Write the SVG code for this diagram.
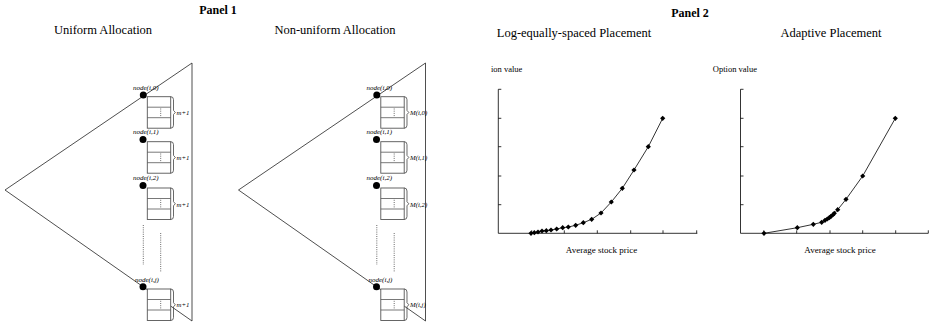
<svg xmlns="http://www.w3.org/2000/svg" xmlns:xlink="http://www.w3.org/1999/xlink" width="930" height="327" viewBox="0 0 930 327">
<style>
  text { font-family: "Liberation Serif", "Times New Roman", serif; fill: #000; }
  .title { font-size: 12.5px; text-anchor: middle; }
  .panel { font-size: 12px; font-weight: bold; text-anchor: middle; }
  .nlab { font-size: 7px; font-style: italic; }
  .blab { font-size: 6.8px; font-style: italic; }
  .axlab { font-size: 8.5px; }
  .axlab2 { font-size: 9px; text-anchor: middle; }
  .tri { fill: none; stroke: #222; stroke-width: 0.8; }
  .box { fill: #fff; stroke: #555; stroke-width: 0.9; }
  .row { stroke: #555; stroke-width: 0.8; }
  .dots { stroke: #444; stroke-width: 0.8; stroke-dasharray: 1 1.2; fill: none; }
  .brace { fill: none; stroke: #444; stroke-width: 0.8; }
  .axis { fill: none; stroke: #000; stroke-width: 0.8; }
  .curve { fill: none; stroke: #000; stroke-width: 0.8; }
</style>
<defs>
  <g id="blk">
    <rect class="box" x="0" y="0" width="23.4" height="31.5"/>
    <line class="row" x1="0" y1="10.5" x2="23.4" y2="10.5"/>
    <line class="row" x1="0" y1="21" x2="23.4" y2="21"/>
    <line class="dots" x1="13.4" y1="11.8" x2="13.4" y2="20"/>
    <path class="brace" d="M23.4,0 Q26.2,0 26.2,3 V13.7 L28,15.75 L26.2,17.8 V28.5 Q26.2,31.5 23.4,31.5"/>
  </g>
  <circle id="dot" r="3.5" fill="#000"/>
  <path id="mk" d="M0,-2.6 L2.6,0 L0,2.6 L-2.6,0Z" fill="#000"/>
</defs>

<text class="panel" x="218" y="14">Panel 1</text>
<text class="panel" x="690" y="17">Panel 2</text>
<text class="title" x="103" y="34">Uniform Allocation</text>
<text class="title" x="335" y="34">Non-uniform Allocation</text>
<text class="title" x="574" y="37">Log-equally-spaced Placement</text>
<text class="title" x="831" y="37">Adaptive Placement</text>

<!-- Uniform allocation tree -->
<g id="uniform">
  <path class="tri" d="M192,63 L5,190 L192,321 Z"/>
  <g id="u-node0">
    <use xlink:href="#blk" x="147.3" y="96.7"/>
    <use xlink:href="#dot" x="143.3" y="95"/>
    <text class="nlab" x="133" y="89.5">node(i,0)</text>
    <text class="blab" x="176.5" y="115">m+1</text>
  </g>
  <g id="u-node1">
    <use xlink:href="#blk" x="147.3" y="141.7"/>
    <use xlink:href="#dot" x="143" y="139.5"/>
    <text class="nlab" x="133" y="134">node(i,1)</text>
    <text class="blab" x="176.5" y="160">m+1</text>
  </g>
  <g id="u-node2">
    <use xlink:href="#blk" x="147.3" y="188"/>
    <use xlink:href="#dot" x="143" y="185.5"/>
    <text class="nlab" x="133" y="180">node(i,2)</text>
    <text class="blab" x="176.5" y="206.5">m+1</text>
  </g>
  <g id="u-vdots">
    <line class="dots" x1="143.3" y1="225" x2="143.3" y2="265"/>
    <line class="dots" x1="160.7" y1="233" x2="160.7" y2="271.5"/>
  </g>
  <g id="u-nodej">
    <use xlink:href="#blk" x="147.3" y="289"/>
    <use xlink:href="#dot" x="143" y="286.7"/>
    <text class="nlab" x="135" y="281.5">node(i,j)</text>
    <text class="blab" x="176.5" y="307">m+1</text>
  </g>
</g>

<!-- Non-uniform allocation tree -->
<g id="nonuniform">
  <path class="tri" d="M425.5,63 L238.5,190 L425.5,321 Z"/>
  <g id="n-node0">
    <use xlink:href="#blk" x="380.8" y="96.7"/>
    <use xlink:href="#dot" x="376.8" y="95"/>
    <text class="nlab" x="366.5" y="89.5">node(i,0)</text>
    <text class="blab" x="410" y="115">M(i,0)</text>
  </g>
  <g id="n-node1">
    <use xlink:href="#blk" x="380.8" y="141.7"/>
    <use xlink:href="#dot" x="376.5" y="139.5"/>
    <text class="nlab" x="366.5" y="134">node(i,1)</text>
    <text class="blab" x="410" y="160">M(i,1)</text>
  </g>
  <g id="n-node2">
    <use xlink:href="#blk" x="380.8" y="188"/>
    <use xlink:href="#dot" x="376.5" y="185.5"/>
    <text class="nlab" x="366.5" y="180">node(i,2)</text>
    <text class="blab" x="410" y="206.5">M(i,2)</text>
  </g>
  <g id="n-vdots">
    <line class="dots" x1="376.8" y1="225" x2="376.8" y2="265"/>
    <line class="dots" x1="394.2" y1="233" x2="394.2" y2="271.5"/>
  </g>
  <g id="n-nodej">
    <use xlink:href="#blk" x="380.8" y="289"/>
    <use xlink:href="#dot" x="376.5" y="286.7"/>
    <text class="nlab" x="368.5" y="281.5">node(i,j)</text>
    <text class="blab" x="410" y="307">M(i,j)</text>
  </g>
</g>

<!-- Chart 1 -->
<g id="chart1">
  <text class="axlab" x="491" y="72">ion value</text>
  <path class="axis" d="M498.3,89.3 V233.3 H697.3"/>
  <path class="axis" d="M498.3,118.3 h3 M498.3,146.7 h3 M498.3,176 h3 M498.3,204.7 h3 M498.3,89.3 h3 M531.7,233.3 v-3 M564.3,233.3 v-3 M597.3,233.3 v-3 M630.7,233.3 v-3 M663,233.3 v-3 M696.7,233.3 v-3"/>
  <polyline class="curve" points="531,233.3 534.3,232.7 538,232 542,231 546.3,230.7 551,230 556.7,229 562.7,227.7 568.3,227 575.7,225.3 583.3,222.7 591.7,219.3 601,213 611.3,202 622.3,188.3 634,170 648.3,146.7 662.7,118.3"/>
  <g>
    <use xlink:href="#mk" x="531" y="233.3"/><use xlink:href="#mk" x="534.3" y="232.7"/>
    <use xlink:href="#mk" x="538" y="232"/><use xlink:href="#mk" x="542" y="231"/>
    <use xlink:href="#mk" x="546.3" y="230.7"/><use xlink:href="#mk" x="551" y="230"/>
    <use xlink:href="#mk" x="556.7" y="229"/><use xlink:href="#mk" x="562.7" y="227.7"/>
    <use xlink:href="#mk" x="568.3" y="227"/><use xlink:href="#mk" x="575.7" y="225.3"/>
    <use xlink:href="#mk" x="583.3" y="222.7"/><use xlink:href="#mk" x="591.7" y="219.3"/>
    <use xlink:href="#mk" x="601" y="213"/><use xlink:href="#mk" x="611.3" y="202"/>
    <use xlink:href="#mk" x="622.3" y="188.3"/><use xlink:href="#mk" x="634" y="170"/>
    <use xlink:href="#mk" x="648.3" y="146.7"/><use xlink:href="#mk" x="662.7" y="118.3"/>
  </g>
  <text class="axlab2" x="601.5" y="253">Average stock price</text>
</g>

<!-- Chart 2 -->
<g id="chart2">
  <text class="axlab" x="757" y="72" text-anchor="end">Option value</text>
  <path class="axis" d="M740.5,89.3 V233.3 H928.3"/>
  <path class="axis" d="M740.5,118.3 h3 M740.5,146.7 h3 M740.5,176 h3 M740.5,204.7 h3 M740.5,89.3 h3 M763.8,233.3 v-3 M796.7,233.3 v-3 M830,233.3 v-3 M862.7,233.3 v-3 M895.7,233.3 v-3 M928.3,233.3 v-3"/>
  <polyline class="curve" points="764,233.3 797.3,227.7 813.3,224.3 821.7,222.3 825,220.3 827.3,219 829.3,217.7 831,216.3 832.7,215 834.3,213.3 837.7,209.7 846,199.3 862.7,176 895.3,118.3"/>
  <g>
    <use xlink:href="#mk" x="764" y="233.3"/><use xlink:href="#mk" x="797.3" y="227.7"/>
    <use xlink:href="#mk" x="813.3" y="224.3"/><use xlink:href="#mk" x="821.7" y="222.3"/>
    <use xlink:href="#mk" x="825" y="220.3"/><use xlink:href="#mk" x="827.3" y="219"/>
    <use xlink:href="#mk" x="829.3" y="217.7"/><use xlink:href="#mk" x="831" y="216.3"/>
    <use xlink:href="#mk" x="832.7" y="215"/><use xlink:href="#mk" x="834.3" y="213.3"/>
    <use xlink:href="#mk" x="837.7" y="209.7"/><use xlink:href="#mk" x="846" y="199.3"/>
    <use xlink:href="#mk" x="862.7" y="176"/><use xlink:href="#mk" x="895.3" y="118.3"/>
  </g>
  <text class="axlab2" x="840" y="253">Average stock price</text>
</g>
</svg>
